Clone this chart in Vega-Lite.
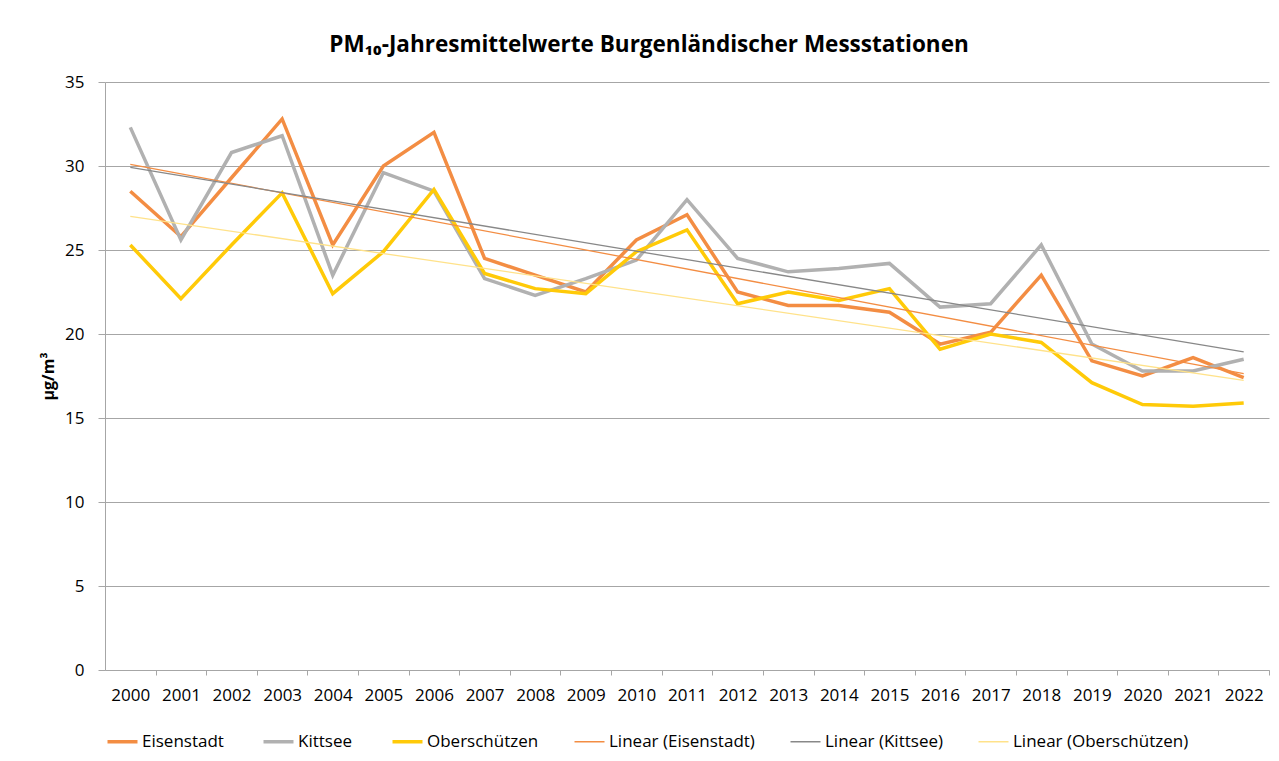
{
  "$schema": "https://vega.github.io/schema/vega-lite/v6.json",
  "width": 1164,
  "height": 588,
  "autosize": {"type": "none"},
  "padding": {"left": 105, "top": 82, "right": 10, "bottom": 91},
  "background": "white",
  "config": {
    "font": "Open Sans",
    "view": {"stroke": null},
    "axis": {"labelFont": "Open Sans", "labelColor": "#000000", "titleFont": "Open Sans"}
  },
  "title": {
    "text": "PM₁₀-Jahresmittelwerte Burgenländischer Messstationen",
    "font": "Open Sans",
    "fontSize": 22.5,
    "fontWeight": "bold",
    "color": "#000000",
    "anchor": "middle",
    "dx": -38,
    "offset": 17
  },
  "data": {
    "values": [
      {"year": 2000, "station": "Eisenstadt", "trend": "Linear (Eisenstadt)", "value": 28.5},
      {"year": 2001, "station": "Eisenstadt", "trend": "Linear (Eisenstadt)", "value": 25.8},
      {"year": 2002, "station": "Eisenstadt", "trend": "Linear (Eisenstadt)", "value": 29.3},
      {"year": 2003, "station": "Eisenstadt", "trend": "Linear (Eisenstadt)", "value": 32.8},
      {"year": 2004, "station": "Eisenstadt", "trend": "Linear (Eisenstadt)", "value": 25.3},
      {"year": 2005, "station": "Eisenstadt", "trend": "Linear (Eisenstadt)", "value": 30.0},
      {"year": 2006, "station": "Eisenstadt", "trend": "Linear (Eisenstadt)", "value": 32.0},
      {"year": 2007, "station": "Eisenstadt", "trend": "Linear (Eisenstadt)", "value": 24.5},
      {"year": 2008, "station": "Eisenstadt", "trend": "Linear (Eisenstadt)", "value": 23.5},
      {"year": 2009, "station": "Eisenstadt", "trend": "Linear (Eisenstadt)", "value": 22.5},
      {"year": 2010, "station": "Eisenstadt", "trend": "Linear (Eisenstadt)", "value": 25.6},
      {"year": 2011, "station": "Eisenstadt", "trend": "Linear (Eisenstadt)", "value": 27.1},
      {"year": 2012, "station": "Eisenstadt", "trend": "Linear (Eisenstadt)", "value": 22.5},
      {"year": 2013, "station": "Eisenstadt", "trend": "Linear (Eisenstadt)", "value": 21.7},
      {"year": 2014, "station": "Eisenstadt", "trend": "Linear (Eisenstadt)", "value": 21.7},
      {"year": 2015, "station": "Eisenstadt", "trend": "Linear (Eisenstadt)", "value": 21.3},
      {"year": 2016, "station": "Eisenstadt", "trend": "Linear (Eisenstadt)", "value": 19.4},
      {"year": 2017, "station": "Eisenstadt", "trend": "Linear (Eisenstadt)", "value": 20.1},
      {"year": 2018, "station": "Eisenstadt", "trend": "Linear (Eisenstadt)", "value": 23.5},
      {"year": 2019, "station": "Eisenstadt", "trend": "Linear (Eisenstadt)", "value": 18.4},
      {"year": 2020, "station": "Eisenstadt", "trend": "Linear (Eisenstadt)", "value": 17.5},
      {"year": 2021, "station": "Eisenstadt", "trend": "Linear (Eisenstadt)", "value": 18.6},
      {"year": 2022, "station": "Eisenstadt", "trend": "Linear (Eisenstadt)", "value": 17.4},
      {"year": 2000, "station": "Kittsee", "trend": "Linear (Kittsee)", "value": 32.3},
      {"year": 2001, "station": "Kittsee", "trend": "Linear (Kittsee)", "value": 25.6},
      {"year": 2002, "station": "Kittsee", "trend": "Linear (Kittsee)", "value": 30.8},
      {"year": 2003, "station": "Kittsee", "trend": "Linear (Kittsee)", "value": 31.8},
      {"year": 2004, "station": "Kittsee", "trend": "Linear (Kittsee)", "value": 23.5},
      {"year": 2005, "station": "Kittsee", "trend": "Linear (Kittsee)", "value": 29.6},
      {"year": 2006, "station": "Kittsee", "trend": "Linear (Kittsee)", "value": 28.5},
      {"year": 2007, "station": "Kittsee", "trend": "Linear (Kittsee)", "value": 23.3},
      {"year": 2008, "station": "Kittsee", "trend": "Linear (Kittsee)", "value": 22.3},
      {"year": 2009, "station": "Kittsee", "trend": "Linear (Kittsee)", "value": 23.3},
      {"year": 2010, "station": "Kittsee", "trend": "Linear (Kittsee)", "value": 24.4},
      {"year": 2011, "station": "Kittsee", "trend": "Linear (Kittsee)", "value": 28.0},
      {"year": 2012, "station": "Kittsee", "trend": "Linear (Kittsee)", "value": 24.5},
      {"year": 2013, "station": "Kittsee", "trend": "Linear (Kittsee)", "value": 23.7},
      {"year": 2014, "station": "Kittsee", "trend": "Linear (Kittsee)", "value": 23.9},
      {"year": 2015, "station": "Kittsee", "trend": "Linear (Kittsee)", "value": 24.2},
      {"year": 2016, "station": "Kittsee", "trend": "Linear (Kittsee)", "value": 21.6},
      {"year": 2017, "station": "Kittsee", "trend": "Linear (Kittsee)", "value": 21.8},
      {"year": 2018, "station": "Kittsee", "trend": "Linear (Kittsee)", "value": 25.3},
      {"year": 2019, "station": "Kittsee", "trend": "Linear (Kittsee)", "value": 19.4},
      {"year": 2020, "station": "Kittsee", "trend": "Linear (Kittsee)", "value": 17.8},
      {"year": 2021, "station": "Kittsee", "trend": "Linear (Kittsee)", "value": 17.8},
      {"year": 2022, "station": "Kittsee", "trend": "Linear (Kittsee)", "value": 18.5},
      {"year": 2000, "station": "Oberschützen", "trend": "Linear (Oberschützen)", "value": 25.3},
      {"year": 2001, "station": "Oberschützen", "trend": "Linear (Oberschützen)", "value": 22.1},
      {"year": 2002, "station": "Oberschützen", "trend": "Linear (Oberschützen)", "value": 25.3},
      {"year": 2003, "station": "Oberschützen", "trend": "Linear (Oberschützen)", "value": 28.4},
      {"year": 2004, "station": "Oberschützen", "trend": "Linear (Oberschützen)", "value": 22.4},
      {"year": 2005, "station": "Oberschützen", "trend": "Linear (Oberschützen)", "value": 24.9},
      {"year": 2006, "station": "Oberschützen", "trend": "Linear (Oberschützen)", "value": 28.6},
      {"year": 2007, "station": "Oberschützen", "trend": "Linear (Oberschützen)", "value": 23.6},
      {"year": 2008, "station": "Oberschützen", "trend": "Linear (Oberschützen)", "value": 22.7},
      {"year": 2009, "station": "Oberschützen", "trend": "Linear (Oberschützen)", "value": 22.4},
      {"year": 2010, "station": "Oberschützen", "trend": "Linear (Oberschützen)", "value": 24.9},
      {"year": 2011, "station": "Oberschützen", "trend": "Linear (Oberschützen)", "value": 26.2},
      {"year": 2012, "station": "Oberschützen", "trend": "Linear (Oberschützen)", "value": 21.8},
      {"year": 2013, "station": "Oberschützen", "trend": "Linear (Oberschützen)", "value": 22.5},
      {"year": 2014, "station": "Oberschützen", "trend": "Linear (Oberschützen)", "value": 22.0},
      {"year": 2015, "station": "Oberschützen", "trend": "Linear (Oberschützen)", "value": 22.7},
      {"year": 2016, "station": "Oberschützen", "trend": "Linear (Oberschützen)", "value": 19.1},
      {"year": 2017, "station": "Oberschützen", "trend": "Linear (Oberschützen)", "value": 20.0},
      {"year": 2018, "station": "Oberschützen", "trend": "Linear (Oberschützen)", "value": 19.5},
      {"year": 2019, "station": "Oberschützen", "trend": "Linear (Oberschützen)", "value": 17.1},
      {"year": 2020, "station": "Oberschützen", "trend": "Linear (Oberschützen)", "value": 15.8},
      {"year": 2021, "station": "Oberschützen", "trend": "Linear (Oberschützen)", "value": 15.7},
      {"year": 2022, "station": "Oberschützen", "trend": "Linear (Oberschützen)", "value": 15.9}
    ]
  },
  "layer": [
    {
      "mark": {"type": "line", "strokeWidth": 3.5, "strokeJoin": "miter"},
      "encoding": {
        "x": {
          "field": "year",
          "type": "quantitative",
          "scale": {"domain": [1999.5, 2022.5], "nice": false, "zero": false},
          "axis": {
            "title": null,
            "values": [2000, 2001, 2002, 2003, 2004, 2005, 2006, 2007, 2008, 2009, 2010, 2011, 2012, 2013, 2014, 2015, 2016, 2017, 2018, 2019, 2020, 2021, 2022],
            "format": "d",
            "grid": false,
            "labelFontSize": 17,
            "labelPadding": 12,
            "labelFlush": false,
            "labelOverlap": false,
            "tickSize": 5,
            "tickOffset": 25.3,
            "labelOffset": -25.3,
            "tickColor": "#A6A6A6",
            "domainColor": "#A6A6A6"
          }
        },
        "y": {
          "field": "value",
          "type": "quantitative",
          "scale": {"domain": [0, 35], "nice": false},
          "axis": {
            "title": "µg/m³",
            "titleFontSize": 16,
            "titleFontWeight": "bold",
            "titleColor": "#000000",
            "titlePadding": 8,
            "values": [0, 5, 10, 15, 20, 25, 30, 35],
            "labelFontSize": 17,
            "labelPadding": 14,
            "tickSize": 7,
            "tickColor": "#A6A6A6",
            "domainColor": "#A6A6A6",
            "gridColor": "#A6A6A6",
            "grid": true
          }
        },
        "color": {
          "field": "station",
          "type": "nominal",
          "scale": {
            "domain": ["Eisenstadt", "Kittsee", "Oberschützen", "Linear (Eisenstadt)", "Linear (Kittsee)", "Linear (Oberschützen)"],
            "range": ["#F38D43", "#B1B1B1", "#FFCA08", "#F38D43", "#888888", "#FFE28A"]
          },
          "legend": {
            "title": null,
            "orient": "none",
            "legendX": 9,
            "legendY": 651,
            "direction": "horizontal",
            "columns": 6,
            "columnPadding": 32,
            "symbolType": "stroke",
            "symbolSize": 900,
            "symbolStrokeWidth": 3.5,
            "labelFontSize": 17,
            "labelFont": "Open Sans",
            "labelColor": "#000000",
            "labelOffset": 11,
            "labelLimit": 400,
            "encode": {
              "symbols": {
                "update": {
                  "strokeWidth": {"signal": "indexof('' + datum.label, 'Linear') == 0 ? 1.5 : 3.5"}
                }
              }
            }
          }
        }
      }
    },
    {
      "transform": [
        {"regression": "value", "on": "year", "groupby": ["trend"], "method": "linear"}
      ],
      "mark": {"type": "line", "strokeWidth": 1.3},
      "encoding": {
        "x": {"field": "year", "type": "quantitative"},
        "y": {"field": "value", "type": "quantitative"},
        "color": {"field": "trend", "type": "nominal"}
      }
    }
  ]
}
